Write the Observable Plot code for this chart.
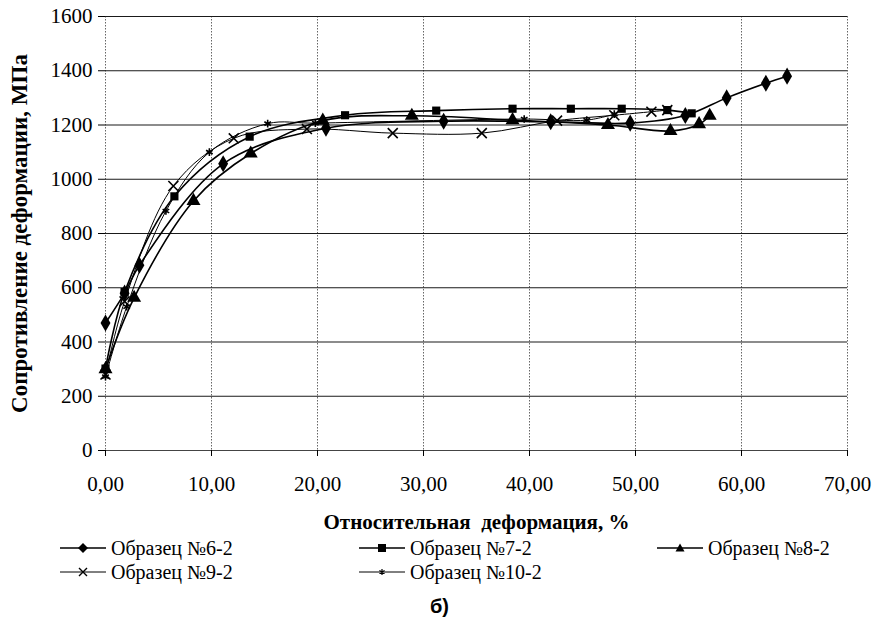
<!DOCTYPE html>
<html>
<head>
<meta charset="utf-8">
<script src="https://cdn.jsdelivr.net/npm/d3@7"></script>
<script src="https://cdn.jsdelivr.net/npm/@observablehq/plot@0.6"></script>
<style>
  html, body { margin: 0; padding: 0; background: #fff; }
  #wrap { position: relative; width: 879px; height: 629px; overflow: hidden; font-family: "Liberation Serif", "Times New Roman", Times, "DejaVu Serif", serif; color: #000; }
  #chart { position: absolute; left: 0; top: 0; }
  .leg { position: absolute; height: 22px; display: flex; align-items: center; font-size: 20px; white-space: nowrap; }
  .leg svg { margin-right: 5px; }
  #caption { position: absolute; left: 0; width: 879px; top: 595px; text-align: center; font-family: "Liberation Sans", Arial, sans-serif; font-weight: bold; font-size: 20px; }
</style>
</head>
<body>
<div id="wrap">
  <div id="chart"></div>
  <div id="legend"></div>
  <div id="caption">б)</div>
</div>
<script>
// ---- data ----
const seriesNames = ["Образец №6-2", "Образец №7-2", "Образец №8-2", "Образец №9-2", "Образец №10-2"];

const x62 = [0, 1.8, 3.2, 11.1, 20.8, 31.9, 42.0, 49.5, 54.7, 58.6, 62.3, 64.3];
const y62 = [470, 580, 683, 1057, 1188, 1214, 1212, 1207, 1235, 1300, 1354, 1380];

const x72 = [0, 1.8, 6.5, 13.6, 22.6, 31.2, 38.4, 43.9, 48.7, 53.0, 55.3];
const y72 = [302, 584, 937, 1157, 1236, 1253, 1260, 1260, 1260, 1255, 1243];

const x82 = [0, 2.7, 8.3, 13.7, 20.5, 28.9, 38.4, 47.4, 53.3, 56.0, 57.0];
const y82 = [300, 563, 920, 1095, 1216, 1234, 1218, 1200, 1178, 1203, 1234];

const x92 = [0, 1.8, 6.4, 12.1, 19.0, 27.1, 35.5, 42.6, 48.0, 51.5, 53.0];
const y92 = [280, 550, 975, 1151, 1185, 1170, 1170, 1216, 1236, 1249, 1255];

const x102 = [0, 2.0, 5.7, 9.8, 15.3, 19.8, 39.5, 45.4, 48.0];
const y102 = [272, 530, 883, 1100, 1205, 1207, 1222, 1218, 1240];

const xTicks = [0, 10, 20, 30, 40, 50, 60, 70];
const yTicks = [0, 200, 400, 600, 800, 1000, 1200, 1400, 1600];

const xTitle = "Относительная  деформация, %";
const yTitle = "Сопротивление деформации, МПа";

// ---- build table ----
const xs = [x62, x72, x82, x92, x102];
const ys = [y62, y72, y82, y92, y102];
const rows = [];
seriesNames.forEach((name, i) => {
  xs[i].forEach((x, j) => rows.push({series: name, x, y: ys[i][j]}));
});
const bySeries = name => rows.filter(d => d.series === name);

const symbols = ["diamond", "square", "triangle", "times", "asterisk"];
const filled = [true, true, true, false, false];
const radius = [5.2, 4.6, 5.2, 4.6, 3.6];
const widths = [1.6, 1.6, 1.6, 1, 1];

const fmtX = d => d.toFixed(2).replace(".", ",");
const fmtY = d => String(d);
const serif = "'Liberation Serif', 'Times New Roman', Times, 'DejaVu Serif', serif";

const marks = [
  Plot.ruleX(xTicks, {stroke: "#666", strokeWidth: 1, strokeDasharray: "1.5,1.5"}),
  Plot.ruleY(yTicks.filter(d => d > 0), {stroke: "#1a1a1a", strokeWidth: 1.2}),
  Plot.ruleY([0], {stroke: "#444", strokeWidth: 1}),
  Plot.axisX({ticks: xTicks, tickFormat: fmtX, tickSize: 6, tickPadding: 20, label: null, fontFamily: serif, fontSize: 21}),
  Plot.axisY({ticks: yTicks, tickFormat: fmtY, tickSize: 7, tickPadding: 6, label: null, fontFamily: serif, fontSize: 21}),
  Plot.text([xTitle], {frameAnchor: "bottom", dy: 72, lineAnchor: "middle", textAnchor: "middle", fontWeight: "bold", fontSize: 21, fontFamily: serif, text: d => d}),
  Plot.text([yTitle], {frameAnchor: "left", dx: -86, rotate: -90, lineAnchor: "middle", textAnchor: "middle", fontWeight: "bold", fontSize: 23, fontFamily: serif, text: d => d})
];
seriesNames.forEach((name, i) => {
  marks.push(Plot.line(bySeries(name), {x: "x", y: "y", curve: "catmull-rom", stroke: "#000", strokeWidth: widths[i]}));
});
seriesNames.forEach((name, i) => {
  marks.push(Plot.dot(bySeries(name), filled[i]
    ? {x: "x", y: "y", symbol: symbols[i], r: radius[i], fill: "#000", stroke: "none"}
    : {x: "x", y: "y", symbol: symbols[i], r: radius[i], fill: "none", stroke: "#000", strokeWidth: 1.6}));
});

const chart = Plot.plot({
  width: 879,
  height: 536,
  marginLeft: 105,
  marginRight: 32,
  marginTop: 16,
  marginBottom: 86,
  x: {domain: [0, 70]},
  y: {domain: [0, 1600]},
  style: {fontFamily: serif, fontSize: "21px", color: "#000", background: "#fff", overflow: "visible"},
  marks
});
document.getElementById("chart").appendChild(chart);

// ---- legend ----
const legPos = [[60, 537], [359, 537], [657, 537], [60, 561], [359, 561]];
const legend = document.getElementById("legend");
const symPath = {
  diamond: '<path d="M23,6 L28,11 L23,16 L18,11 Z" fill="#000"/>',
  square: '<rect x="19" y="7" width="8" height="8" fill="#000"/>',
  triangle: '<path d="M23,6.5 L27.5,14.5 L18.5,14.5 Z" fill="#000"/>',
  times: '<path d="M19,7 L27,15 M27,7 L19,15" stroke="#000" stroke-width="1.4"/>',
  asterisk: '<path d="M23,8 L23,14 M20.4,9.5 L25.6,12.5 M25.6,9.5 L20.4,12.5" stroke="#000" stroke-width="1.2"/>'
};
seriesNames.forEach((name, i) => {
  const el = document.createElement("div");
  el.className = "leg";
  el.style.left = legPos[i][0] + "px";
  el.style.top = legPos[i][1] + "px";
  el.innerHTML = `<svg width="46" height="22"><line x1="0" y1="11" x2="46" y2="11" stroke="#000" stroke-width="${widths[i]}"/>${symPath[symbols[i]]}</svg><span>${name}</span>`;
  legend.appendChild(el);
});
</script>
</body>
</html>
